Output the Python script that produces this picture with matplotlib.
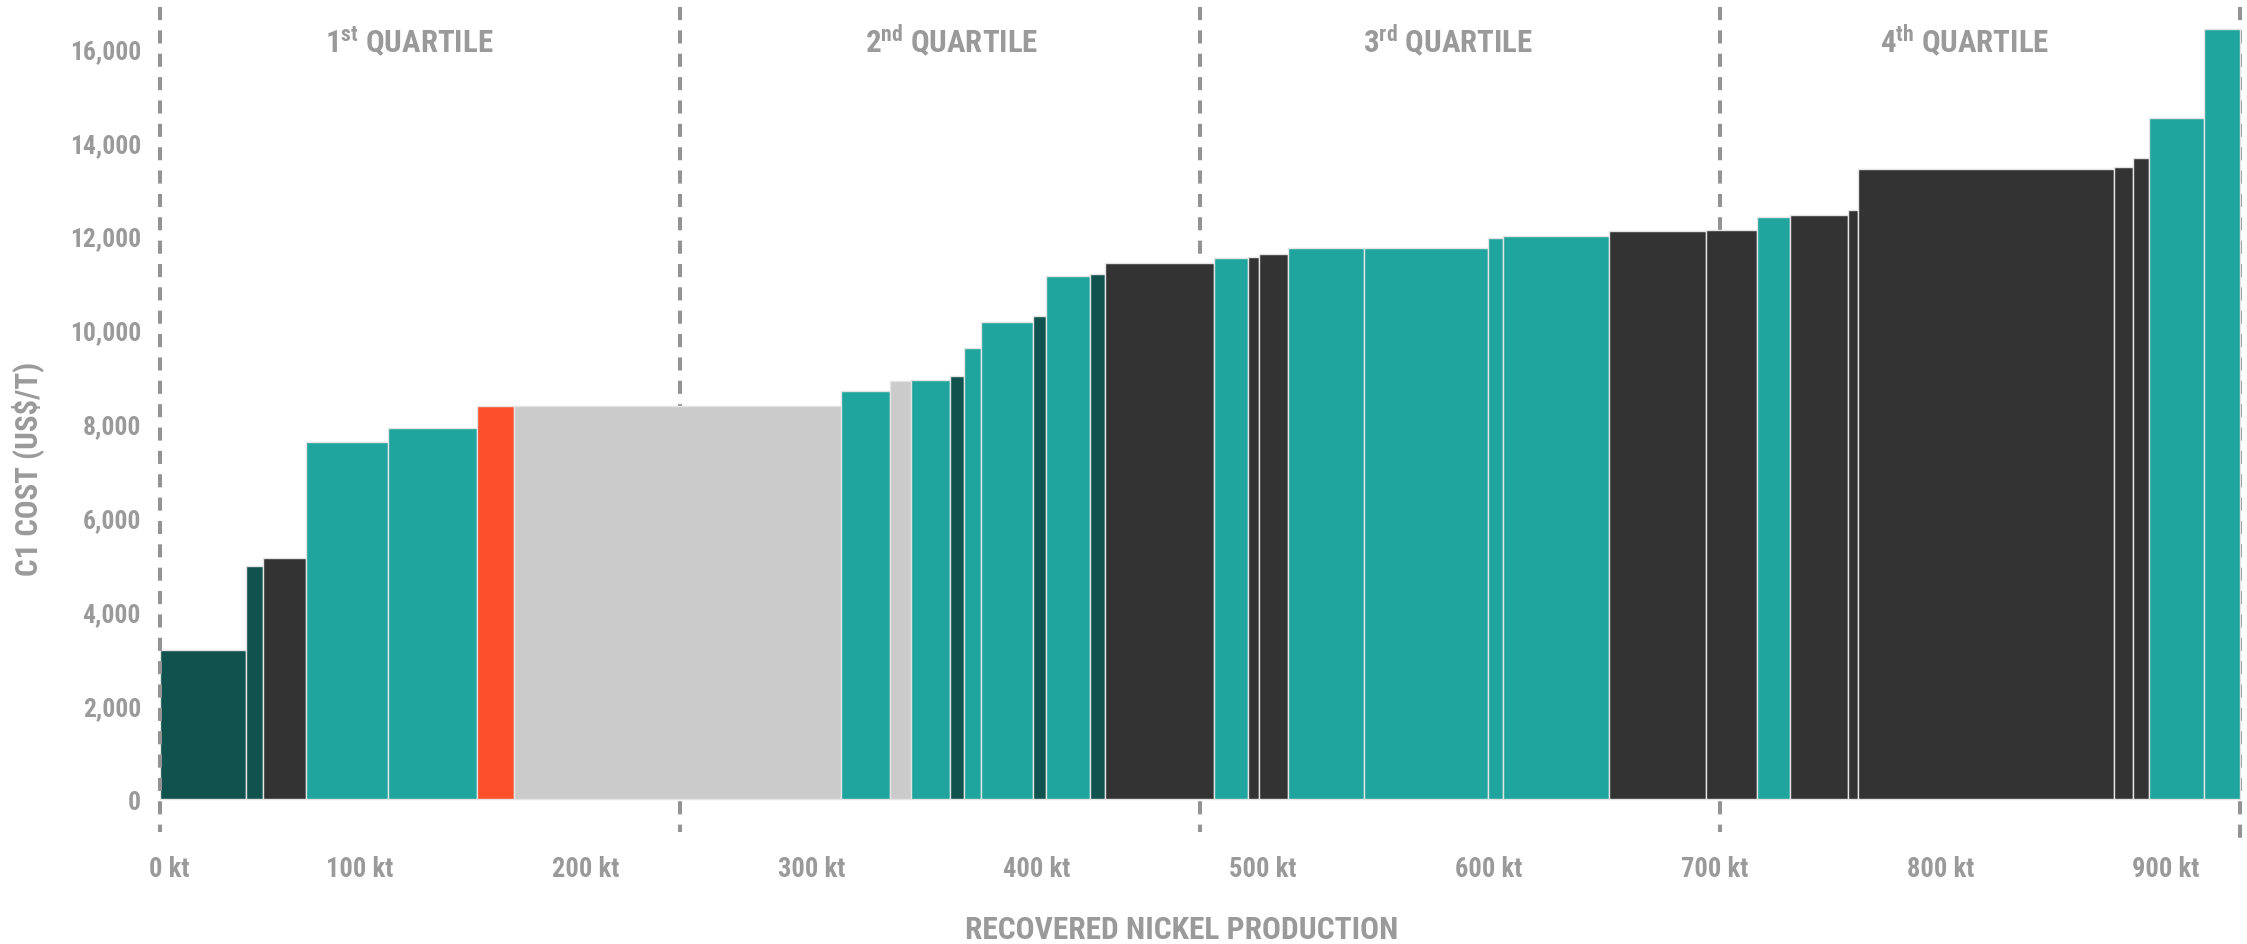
import matplotlib
matplotlib.use("Agg")
import matplotlib.pyplot as plt
from matplotlib import font_manager as fm
import numpy as np

# ---------------- data ----------------
widths_kt = [38.0, 7.4, 19.3, 36.2, 39.6, 16.1, 144.9, 22.0, 8.9, 17.4, 6.3, 7.4,
             23.3, 5.7, 19.5, 6.6, 48.1, 15.2, 4.7, 13.1, 33.5, 54.9, 6.8, 46.6,
             43.1, 22.8, 14.5, 25.6, 4.6, 113.1, 8.5, 7.1, 24.3, 16.0]
costs = [3180, 4980, 5140, 7610, 7910, 8390, 8370, 8710, 8910, 8940, 9030, 9610,
         10170, 10300, 11150, 11190, 11430, 11540, 11560, 11630, 11750, 11750, 11970, 12010,
         12100, 12130, 12400, 12450, 12560, 13440, 13480, 13670, 14520, 16410]
groups = ["dark_teal", "dark_teal", "dark", "teal", "teal", "highlight", "peer", "teal",
          "peer", "teal", "dark_teal", "teal", "teal", "dark_teal", "teal", "dark_teal",
          "dark", "teal", "dark", "dark", "teal", "teal", "teal", "teal",
          "dark", "dark", "teal", "dark", "dark", "dark", "dark", "dark", "teal", "teal"]
y_ticks = [0, 2000, 4000, 6000, 8000, 10000, 12000, 14000, 16000]
x_tick_values = [0, 100, 200, 300, 400, 500, 600, 700, 800, 900]
quartile_names = ["1", "2", "3", "4"]
quartile_suffix = ["st", "nd", "rd", "th"]

# ---------------- fonts ----------------
bold_static = {}
for f in fm.fontManager.ttflist:
    w = f.weight if isinstance(f.weight, int) else (700 if "bold" in str(f.weight) else 400)
    if w >= 700 and f.style == "normal" and "[" not in f.fname:
        bold_static[f.name] = True
candidates = ["Roboto Condensed", "Liberation Sans Narrow", "Archivo Narrow", "PT Sans Narrow",
              "Fira Sans Condensed", "IBM Plex Sans Condensed", "Sofia Sans Condensed",
              "Barlow Semi Condensed", "Asap Condensed", "Barlow Condensed"]
COND = next((c for c in candidates if c in bold_static), "Liberation Sans")
FAM = [COND, "DejaVu Sans"]
plt.rcParams["font.family"] = FAM
plt.rcParams["font.weight"] = "bold"
plt.rcParams["mathtext.fontset"] = "custom"
plt.rcParams["mathtext.rm"] = f"{COND}:bold"
plt.rcParams["mathtext.bf"] = f"{COND}:bold"
plt.rcParams["mathtext.it"] = f"{COND}:bold"

# ---------------- style ----------------
palette = {"dark_teal": "#10524e", "dark": "#333333", "teal": "#1fa59e",
           "highlight": "#fd4f2a", "peer": "#cbcbcb"}
TXT = "#9a9a9a"

W, H = 2247, 945
fig = plt.figure(figsize=(W / 100, H / 100), dpi=100)
renderer = fig.canvas.get_renderer()


def fit_size(s, target_px, base=20.0):
    t = fig.text(0, 0, s, fontsize=base, fontweight="bold")
    w = t.get_window_extent(renderer).width
    t.remove()
    return base * target_px / w


fs_title = fit_size("RECOVERED NICKEL PRODUCTION", 435)
fs_quart = fit_size("QUARTILE", 127)
fs_ytick = fit_size("4,000", 58)
fs_xtick = fit_size("100 kt", 67)
fs_ylab = fit_size("C1 COST (US\\$/T)", 214)

# axes geometry in pixels
px_per_kt = 2.258
px_per_unit = 0.04693
base_px = 800.3          # baseline (y=0) from top
left_px = 160
xmax = 922.0
ymin, ymax = -1100, 17000
ax_w = xmax * px_per_kt
ax_h = (ymax - ymin) * px_per_unit
bottom_from_top = base_px - ymin * px_per_unit
ax = fig.add_axes([left_px / W, (H - bottom_from_top) / H, ax_w / W, ax_h / H])
ax.set_xlim(0, xmax)
ax.set_ylim(ymin, ymax)
for s in ax.spines.values():
    s.set_visible(False)

# bars
widths = np.array(widths_kt)
lefts = np.concatenate([[0], np.cumsum(widths)[:-1]])
ax.bar(lefts, costs, width=widths, align="edge",
       color=[palette[g] for g in groups], edgecolor="#e4e4e4", linewidth=1.0, zorder=2)

# quartile dashed lines (drawn top-down so the dash phase starts at the top)
total = widths.sum()
dash = (0, (3.25, 2.55))
for q in [0, 0.25, 0.5, 0.75, 1.0]:
    lo = -995 if q == 1.0 else -697
    ax.plot([total * q, total * q], [16876, lo], ls=dash, lw=2.9, color="#939393",
            zorder=3 if q == 0 else 1, clip_on=False)

# quartile labels
q_label_x = [110.3, 350.5, 570.2, 799.4]
for n, suf, xq in zip(quartile_names, quartile_suffix, q_label_x):
    ax.text(xq, 15917, f"{n}$^{{\\mathrm{{{suf}}}}}$ QUARTILE", ha="center", va="baseline",
            fontsize=fs_quart, color=TXT, fontweight="bold", zorder=4)

# y ticks
ax.set_yticks(y_ticks)
ax.set_yticklabels([f"{v:,}" for v in y_ticks])
ax.tick_params(axis="y", length=0, pad=13.7, labelsize=fs_ytick, labelcolor=TXT)
ax.set_xticks([])

# x tick labels (label centres sit ~11.6 kt left of their nominal value; "0 kt" flush at start)
for v in x_tick_values:
    xpos = 4.1 if v == 0 else v - 11.6
    ax.text(xpos, -1628, f"{v} kt", ha="center", va="baseline", fontsize=fs_xtick,
            color=TXT, fontweight="bold", clip_on=False)

# axis titles
ax.text(452.4, -2945, "RECOVERED NICKEL PRODUCTION", ha="center", va="baseline",
        fontsize=fs_title, color=TXT, fontweight="bold", clip_on=False)
fig.text(28.7 / W, 1 - 468.7 / H, "C1 COST (US\\$/T)", rotation=90, ha="center", va="center",
         fontsize=fs_ylab, color=TXT, fontweight="bold")

fig.savefig("out.png", dpi=100, facecolor="white")
